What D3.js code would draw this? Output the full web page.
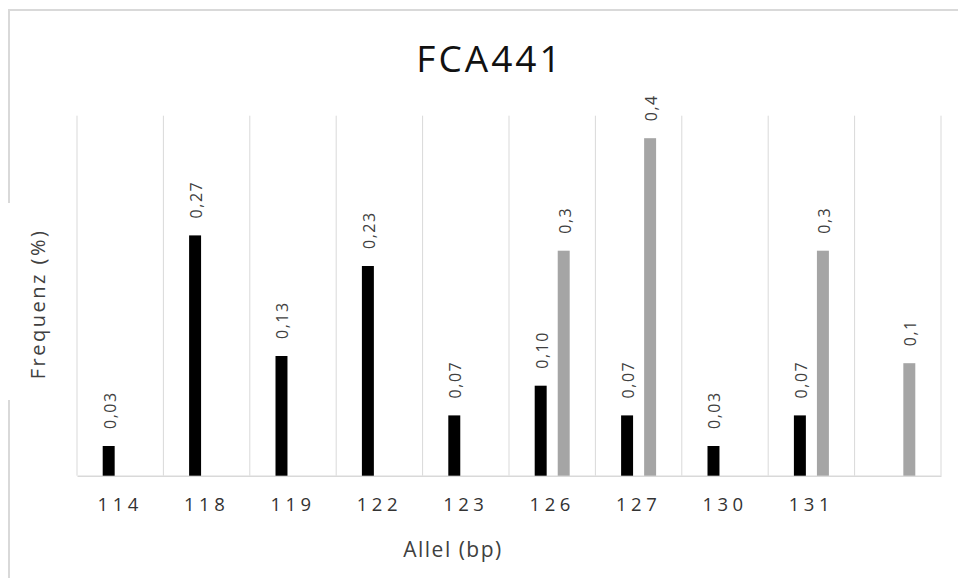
<!DOCTYPE html>
<html>
<head>
<meta charset="utf-8">
<script src="https://cdn.jsdelivr.net/npm/d3@7"></script>
<style>
  html, body { margin: 0; padding: 0; background: #fff; }
  svg { display: block; font-family: 'Open Sans', sans-serif; }
</style>
</head>
<body>
<div id="chart"></div>
<script>
// data
const alleles = ['114', '118', '119', '122', '123', '126', '127', '130', '131', ''];
const seriesNames = ['black', 'gray'];
const blackValues = [0.033, 0.267, 0.133, 0.233, 0.067, 0.1, 0.067, 0.033, 0.067, null];
const grayValues = [null, null, null, null, null, 0.25, 0.375, null, 0.25, 0.125];
const yDomain = [0, 0.4];

const width = 958, height = 578;
const plot = {left: 77, right: 941, top: 115.7, bottom: 475.7};
const colors = {black: '#000000', gray: '#a5a5a5'};
const deLocale = d3.formatLocale({decimal: ',', thousands: '.', grouping: [3], currency: ['', '']});
const labelFmt = {
    black: deLocale.format('.2f'),
    gray: deLocale.format('.1f')
};

const svg = d3.select('#chart').append('svg').attr('width', width).attr('height', height);

// chart area frame (cropped at right / bottom)
svg.append('rect')
    .attr('x', 9).attr('y', 10)
    .attr('width', 1000).attr('height', 1000)
    .attr('fill', '#fff')
    .attr('stroke', '#d9d9d9')
    .attr('stroke-width', 2);

const x = d3.scaleBand().domain(alleles).range([plot.left, plot.right]).padding(0);
const y = d3.scaleLinear().domain(yDomain).range([plot.bottom, plot.top]);
const groupW = 35;
const x1 = d3.scaleBand().domain(seriesNames).range([0, groupW]).paddingInner(0.48);

// vertical gridlines at category borders
const borders = alleles.map((a) => x(a)).concat([x(alleles[alleles.length - 1]) + x.bandwidth()]);
svg.append('g').selectAll('line')
    .data(borders).enter()
    .append('line')
    .attr('x1', (d) => d).attr('x2', (d) => d)
    .attr('y1', plot.top).attr('y2', plot.bottom)
    .attr('stroke', '#d9d9d9')
    .attr('stroke-width', 1);

// x axis
const xAxis = svg.append('g')
    .attr('transform', 'translate(0,' + plot.bottom + ')')
    .call(d3.axisBottom(x).tickSize(0));
xAxis.select('.domain').attr('stroke', '#d9d9d9').attr('stroke-width', 1.5);
xAxis.selectAll('text')
    .attr('y', 35).attr('dy', null)
    .attr('fill', '#333333')
    .style('font-family', "'Open Sans', sans-serif")
    .style('font-size', '18.5px')
    .style('letter-spacing', '4.5px');

// bars
const rows = alleles.map((a, i) => ({allel: a, black: blackValues[i], gray: grayValues[i]}));
const groups = svg.append('g').selectAll('g')
    .data(rows).enter()
    .append('g')
    .attr('transform', (d) => 'translate(' + (x(d.allel) + x.bandwidth() / 2 - groupW / 2) + ',0)');

const bars = groups.selectAll('rect')
    .data((d) => seriesNames.filter((s) => d[s] != null).map((s) => ({key: s, value: d[s]})))
    .enter();

bars.append('rect')
    .attr('x', (d) => x1(d.key))
    .attr('width', x1.bandwidth())
    .attr('y', (d) => y(d.value))
    .attr('height', (d) => plot.bottom - y(d.value))
    .attr('fill', (d) => colors[d.key]);

bars.append('text')
    .attr('transform', (d) => 'translate(' + (x1(d.key) + x1.bandwidth() / 2 + 1) + ',' + (y(d.value) - 17) + ') rotate(-90)')
    .attr('dominant-baseline', 'central')
    .attr('fill', '#404040')
    .style('font-size', '16px')
    .style('letter-spacing', '1.5px')
    .text((d) => labelFmt[d.key](d.value));

// title
svg.append('text')
    .attr('x', 490).attr('y', 71.7)
    .attr('text-anchor', 'middle')
    .attr('fill', '#111111')
    .style('font-size', '37px')
    .style('letter-spacing', '3px')
    .text('FCA441');

// y axis title (its box hides the frame line behind it)
svg.append('rect')
    .attr('x', 4).attr('y', 203).attr('width', 56).attr('height', 197)
    .attr('fill', '#fff');
svg.append('text')
    .attr('transform', 'translate(45,304) rotate(-90)')
    .attr('text-anchor', 'middle')
    .attr('fill', '#404040')
    .style('font-size', '20px')
    .style('letter-spacing', '2.5px')
    .text('Frequenz (%)');

// x axis title
svg.append('text')
    .attr('x', 453).attr('y', 556.5)
    .attr('text-anchor', 'middle')
    .attr('fill', '#404040')
    .style('font-size', '21px')
    .style('letter-spacing', '1.5px')
    .text('Allel (bp)');
</script>
</body>
</html>
